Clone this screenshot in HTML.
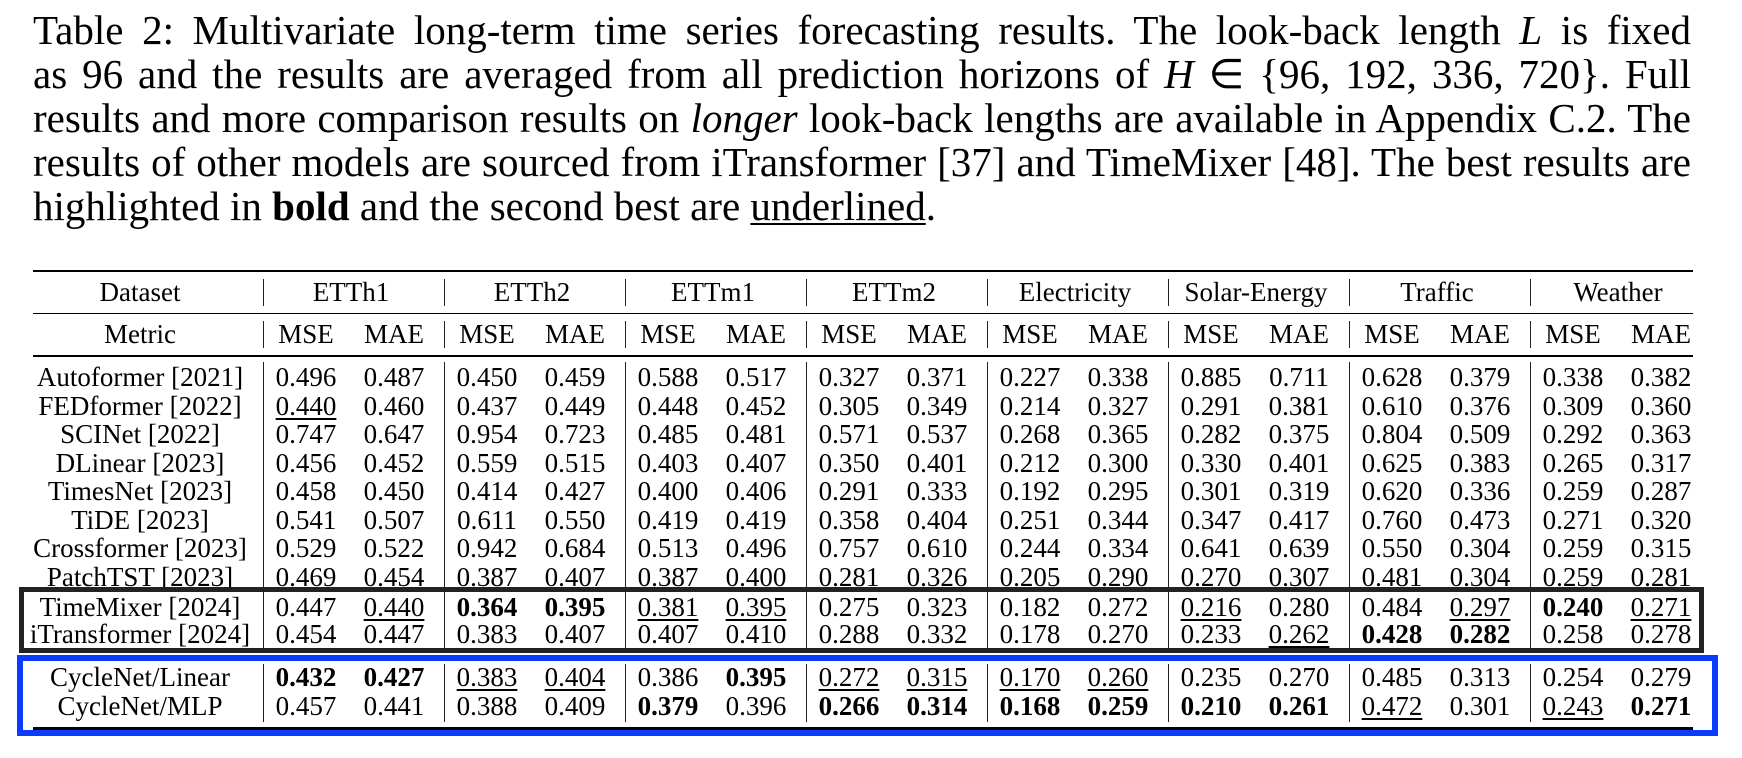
<!DOCTYPE html>
<html><head><meta charset="utf-8">
<style>
html,body{margin:0;padding:0;background:#fff;}
body{width:1742px;height:758px;position:relative;overflow:hidden;font-family:"Liberation Serif",serif;color:#000;}
#caption{position:absolute;left:33px;top:8px;width:1658px;font-size:41px;line-height:44px;}
#caption div{text-align:justify;text-align-last:justify;white-space:nowrap;}
.cell{position:absolute;height:30px;line-height:30px;font-size:27px;text-align:center;white-space:nowrap;}
.hr{position:absolute;background:#000;}
.vr{position:absolute;width:1px;background:#222;}
.u{text-decoration:underline;text-decoration-thickness:1.5px;text-underline-offset:3px;}
.b{font-weight:bold;}
</style></head><body>
<div id="caption">
<div>Table 2: Multivariate long-term time series forecasting results. The look-back length <i>L</i> is fixed</div>
<div>as 96 and the results are averaged from all prediction horizons of <i>H</i> ∈ {96, 192, 336, 720}. Full</div>
<div>results and more comparison results on <i>longer</i> look-back lengths are available in Appendix C.2. The</div>
<div>results of other models are sourced from iTransformer [37] and TimeMixer [48]. The best results are</div>
<div style="text-align:left;text-align-last:left;">highlighted in <b>bold</b> and the second best are <span class="u">underlined</span>.</div>
</div>
<div id="table"></div>
<script>
const datasets=["ETTh1","ETTh2","ETTm1","ETTm2","Electricity","Solar-Energy","Traffic","Weather"];
const models=["Autoformer [2021]","FEDformer [2022]","SCINet [2022]","DLinear [2023]","TimesNet [2023]","TiDE [2023]","Crossformer [2023]","PatchTST [2023]","TimeMixer [2024]","iTransformer [2024]","CycleNet/Linear","CycleNet/MLP"];
const r0=["0.496","0.487","0.450","0.459","0.588","0.517","0.327","0.371","0.227","0.338","0.885","0.711","0.628","0.379","0.338","0.382"];
const r1=["u0.440","0.460","0.437","0.449","0.448","0.452","0.305","0.349","0.214","0.327","0.291","0.381","0.610","0.376","0.309","0.360"];
const r2=["0.747","0.647","0.954","0.723","0.485","0.481","0.571","0.537","0.268","0.365","0.282","0.375","0.804","0.509","0.292","0.363"];
const r3=["0.456","0.452","0.559","0.515","0.403","0.407","0.350","0.401","0.212","0.300","0.330","0.401","0.625","0.383","0.265","0.317"];
const r4=["0.458","0.450","0.414","0.427","0.400","0.406","0.291","0.333","0.192","0.295","0.301","0.319","0.620","0.336","0.259","0.287"];
const r5=["0.541","0.507","0.611","0.550","0.419","0.419","0.358","0.404","0.251","0.344","0.347","0.417","0.760","0.473","0.271","0.320"];
const r6=["0.529","0.522","0.942","0.684","0.513","0.496","0.757","0.610","0.244","0.334","0.641","0.639","0.550","0.304","0.259","0.315"];
const r7=["0.469","0.454","0.387","0.407","0.387","0.400","0.281","0.326","0.205","0.290","0.270","0.307","0.481","0.304","0.259","0.281"];
const r8=["0.447","u0.440","b0.364","b0.395","u0.381","u0.395","0.275","0.323","0.182","0.272","u0.216","0.280","0.484","u0.297","b0.240","u0.271"];
const r9=["0.454","0.447","0.383","0.407","0.407","0.410","0.288","0.332","0.178","0.270","0.233","u0.262","b0.428","b0.282","0.258","0.278"];
const r10=["b0.432","b0.427","u0.383","u0.404","0.386","b0.395","u0.272","u0.315","u0.170","u0.260","0.235","0.270","0.485","0.313","0.254","0.279"];
const r11=["0.457","0.441","0.388","0.409","b0.379","0.396","b0.266","b0.314","b0.168","b0.259","b0.210","b0.261","u0.472","0.301","u0.243","b0.271"];
const rows=[r0,r1,r2,r3,r4,r5,r6,r7,r8,r9,r10,r11];

const T=document.getElementById('table');
const rowY=[377,405.5,434,462.5,491,519.5,548,576.5,607,634,677,706];
const barX=k=>263+k*181;
function cell(text,cx,cy,w,cls){
  const d=document.createElement('div');
  d.className='cell'+(cls?' '+cls:'');
  d.style.left=(cx-w/2)+'px';d.style.top=(cy-15)+'px';d.style.width=w+'px';
  d.textContent=text;T.appendChild(d);return d;
}
function hr(x,y,w,h,name){const d=document.createElement('div');d.className='hr';
  d.style.cssText+=`left:${x}px;top:${y}px;width:${w}px;height:${h}px;`;
  
  
  T.appendChild(d);}
function vr(x,y1,y2){const d=document.createElement('div');d.className='vr';
  d.style.cssText+=`left:${x}px;top:${y1}px;height:${y2-y1}px;`;
  
  
  T.appendChild(d);}
hr(33,270,1660,2,'top-rule');
hr(33,313,1660,1,'header-rule');
hr(33,355,1660,1.5,'header-bottom-rule');
hr(33,727,1660,2.5,'bottom-rule');
let h=cell("Dataset",140,292,200);


h=cell("Metric",140,334,200);


datasets.forEach((ds,k)=>{
  const x=barX(k);
  const e=cell(ds,x+88,292,176);
  
  
  const m1=cell("MSE",x+43,334,80);
  
  
  const m2=cell("MAE",x+131,334,80);
  
  
  vr(x,279,306);vr(x,321,348);vr(x,362,648);vr(x,664,722);
});
models.forEach((m,i)=>{
  const y=rowY[i];
  const l=cell(m,140,y,230);
  
  
  rows[i].forEach((v,j)=>{
    let cls='',t=v;
    if(v[0]==='b'){cls='b';t=v.slice(1);} else if(v[0]==='u'){cls='u';t=v.slice(1);}
    const k=Math.floor(j/2);
    const cx=barX(k)+(j%2?131:43);
    const c=cell(t,cx,y,80);
    if(cls){const s=document.createElement('span');s.className=cls;s.textContent=t;c.textContent='';c.appendChild(s);}
    
    
  });
});
const bb=document.createElement('div');
bb.style.cssText='position:absolute;left:19px;top:587px;width:1675px;height:56px;border:5px solid #222;';


T.appendChild(bb);
const bl=document.createElement('div');
bl.style.cssText='position:absolute;left:17px;top:655px;width:1689px;height:69px;border:6px solid #0a3cff;';


T.appendChild(bl);
</script>
</body></html>
